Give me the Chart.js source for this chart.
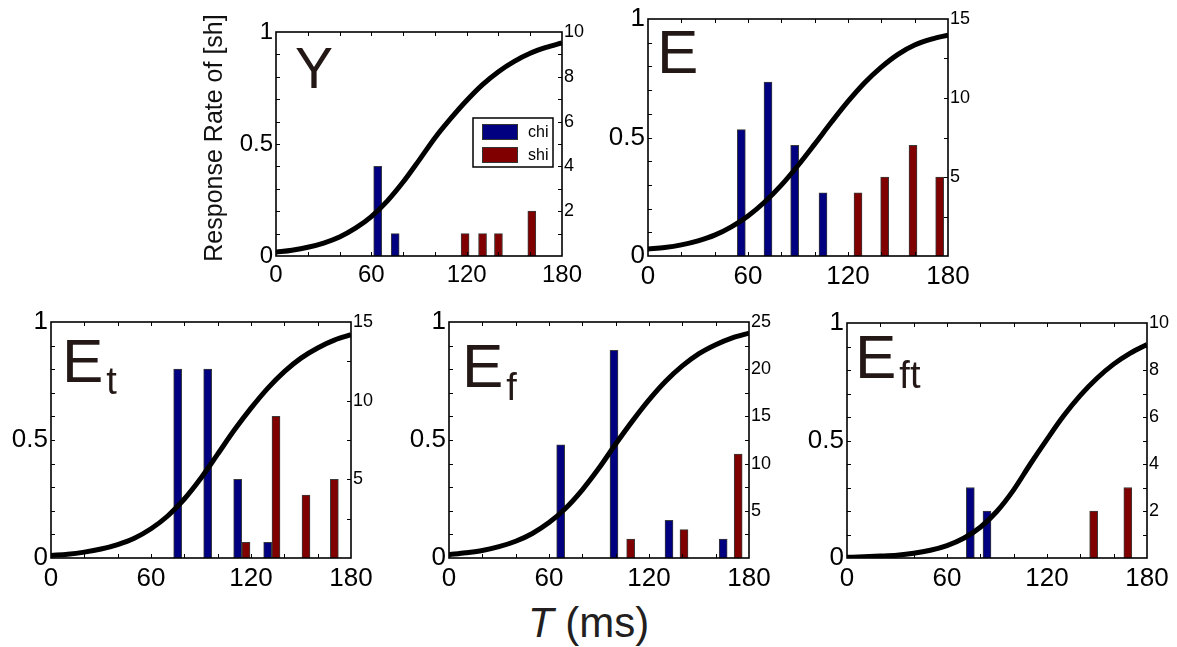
<!DOCTYPE html>
<html>
<head>
<meta charset="utf-8">
<script src="https://cdn.jsdelivr.net/npm/chart.js@4.4.0/dist/chart.umd.min.js"></script>
<style>
  body { margin: 0; background: #fff; width: 1177px; height: 647px; position: relative; overflow: hidden; font-family: "Liberation Sans", Arial, sans-serif; }
  canvas { position: absolute; }
  #xtitle { position: absolute; left: 528px; top: 603px; font-size: 42px; line-height: 40px; color: #231f20; white-space: nowrap; }
</style>
</head>
<body>
<div id="xtitle"><i>T</i> (ms)</div>
<script>
// time grid of the fitted response curves (ms)
const timeGrid = [0, 10, 20, 30, 40, 50, 60, 70, 80, 90, 100, 110, 120, 130, 140, 150, 160, 170, 180];

// response rate of [sh]
const rateY   = [0.017, 0.026, 0.039, 0.058, 0.085, 0.124, 0.176, 0.245, 0.330, 0.427, 0.527, 0.614, 0.694, 0.765, 0.823, 0.869, 0.905, 0.931, 0.951];
const rateE   = [0.030, 0.036, 0.047, 0.064, 0.088, 0.123, 0.169, 0.228, 0.299, 0.382, 0.472, 0.564, 0.652, 0.731, 0.797, 0.851, 0.890, 0.915, 0.932];
const rateEt  = [0.011, 0.016, 0.025, 0.038, 0.057, 0.084, 0.124, 0.178, 0.250, 0.339, 0.440, 0.542, 0.635, 0.719, 0.790, 0.847, 0.890, 0.923, 0.946];
const rateEf  = [0.014, 0.022, 0.032, 0.048, 0.071, 0.104, 0.150, 0.211, 0.289, 0.381, 0.483, 0.580, 0.670, 0.749, 0.814, 0.866, 0.904, 0.933, 0.953];
const rateEft = [0.003, 0.005, 0.008, 0.012, 0.020, 0.033, 0.053, 0.084, 0.131, 0.199, 0.290, 0.400, 0.505, 0.605, 0.692, 0.765, 0.825, 0.872, 0.909];

// chi / shi response counts (right axis) at their time bins
const chiTimeY = [64, 75];              const chiCountY = [4, 1];
const shiTimeY = [119, 130, 140, 161];  const shiCountY = [1, 1, 1, 2];
const chiTimeE = [56, 72, 88, 105];     const chiCountE = [8, 11, 7, 4];
const shiTimeE = [126, 142, 159, 175];  const shiCountE = [4, 5, 7, 5];
const chiTimeEt = [76, 94, 112, 130];   const chiCountEt = [12, 12, 5, 1];
const shiTimeEt = [117, 135, 153, 170]; const shiCountEt = [1, 9, 4, 5];
const chiTimeEf = [67, 99, 132, 164.5]; const chiCountEf = [12, 22, 4, 2];
const shiTimeEf = [109, 141, 173.5];    const shiCountEf = [2, 3, 11];
const chiTimeEft = [74, 84];            const chiCountEft = [3, 2];
const shiTimeEft = [148, 168.5];        const shiCountEft = [2, 3];

const panelNames = ['Y', 'E', 'E', 'E', 'E'];
const panelSubs = ['', '', 't', 'f', 'ft'];
const countMax = [10, 15, 15, 25, 10];
const countStep = [2, 5, 5, 5, 2];
const seriesNames = ['chi', 'shi'];

const chiColor = '#000080';
const shiColor = '#800000';
const textColor = '#231815';

const points = (xs, ys) => xs.map((x, i) => ({ x: x, y: ys[i] }));

// plot area of every panel (left, top, right, bottom) and label placement
const layouts = [
  { area: [276, 32, 562, 256], padL: 90, padT: 30, lab: [19, 56, 57], tickFont: 24, legend: true, yTitle: true },
  { area: [648, 19, 948, 256], padL: 60, padT: 16, lab: [9, 54, 62], tickFont: 26 },
  { area: [51, 322, 351, 558], padL: 50, padT: 20, lab: [11, 60, 62], tickFont: 26, sub: 12 },
  { area: [449, 322, 749, 558], padL: 50, padT: 20, lab: [13, 65, 62], tickFont: 26, sub: 13 },
  { area: [847, 323, 1147, 558], padL: 50, padT: 20, lab: [8, 55, 62], tickFont: 26, sub: 10 }
];
const padR = 30, padB = 42;

const decoPlugin = {
  id: 'deco',
  afterDatasetsDraw(chart, args, o) {
    const { ctx, chartArea: a, scales } = chart;
    ctx.save();
    ctx.strokeStyle = '#000';
    ctx.lineWidth = 1;
    ctx.beginPath();
    for (let t = 20; t < 180; t += 20) {
      const px = Math.round(scales.x.getPixelForValue(t)) + 0.5;
      ctx.moveTo(px, a.bottom); ctx.lineTo(px, a.bottom - 4);
      ctx.moveTo(px, a.top); ctx.lineTo(px, a.top + 4);
    }
    for (let v = 1; v < 10; v++) {
      const py = Math.round(scales.y.getPixelForValue(v / 10)) + 0.5;
      ctx.moveTo(a.left, py); ctx.lineTo(a.left + 4, py);
    }
    const m = o.step / 2;
    for (let v = m; v < o.max; v += m) {
      const py = Math.round(scales.y1.getPixelForValue(v)) + 0.5;
      ctx.moveTo(a.right, py); ctx.lineTo(a.right - 4, py);
    }
    ctx.stroke();
    ctx.lineWidth = 1.6;
    ctx.strokeRect(a.left, a.top, a.right - a.left, a.bottom - a.top);

    // panel name with subscript
    ctx.fillStyle = textColor;
    ctx.textBaseline = 'alphabetic';
    ctx.textAlign = 'left';
    ctx.font = o.lab[2] + 'px "Liberation Sans", Arial, sans-serif';
    const lx = a.left + o.lab[0], ly = a.top + o.lab[1];
    ctx.fillText(o.name, lx, ly);
    if (o.sub) {
      const w = ctx.measureText(o.name).width;
      ctx.font = '38px "Liberation Sans", Arial, sans-serif';
      ctx.fillText(o.sub, lx + w + 3, ly + o.subDrop);
    }

    if (o.yTitle) {
      ctx.save();
      ctx.translate(a.left - 61, a.top + 106);
      ctx.rotate(-Math.PI / 2);
      ctx.textAlign = 'center';
      ctx.textBaseline = 'middle';
      ctx.fillStyle = '#111';
      ctx.font = '25px "Liberation Sans", Arial, sans-serif';
      ctx.fillText(o.yTitle, 0, 0);
      ctx.restore();
    }

    if (o.legend) {
      const bars = chart.data.datasets.filter(d => d.type === 'bar');
      const bx = a.right - 89, by = a.top + 86;
      ctx.fillStyle = '#fff';
      ctx.fillRect(bx, by, 80, 49);
      ctx.lineWidth = 1.5;
      ctx.strokeStyle = '#000';
      ctx.strokeRect(bx, by, 80, 49);
      ctx.font = '16px "Liberation Sans", Arial, sans-serif';
      ctx.textBaseline = 'middle';
      bars.forEach((d, i) => {
        const sy = by + 6 + i * 23;
        ctx.fillStyle = d.backgroundColor;
        ctx.fillRect(bx + 9, sy, 36, 16);
        ctx.lineWidth = 1;
        ctx.strokeStyle = '#333';
        ctx.strokeRect(bx + 9.5, sy + 0.5, 35, 15);
        ctx.fillStyle = '#000';
        ctx.fillText(d.label, bx + 55, sy + 9);
      });
    }
    ctx.restore();
  }
};

function fixSize(prop, size) {
  return s => {
    s[prop] = size;
    s.paddingLeft = 0; s.paddingRight = 0; s.paddingTop = 0; s.paddingBottom = 0;
  };
}

function barSet(label, color, xs, ys) {
  return {
    type: 'bar', label: label, data: points(xs, ys), yAxisID: 'y1',
    backgroundColor: color, borderColor: '#3a3a3a', borderWidth: 1,
    barThickness: 8, grouped: false, order: 1
  };
}

function makePanel(i, rate, chiT, chiN, shiT, shiN) {
  const L = layouts[i];
  const [x0, y0, x1, y1] = L.area;
  const c = document.createElement('canvas');
  c.width = (x1 - x0) + L.padL + padR;
  c.height = (y1 - y0) + L.padT + padB;
  c.style.left = (x0 - L.padL) + 'px';
  c.style.top = (y0 - L.padT) + 'px';
  document.body.appendChild(c);

  const font = size => ({ family: '"Liberation Sans", Arial, sans-serif', size: size });
  new Chart(c, {
    type: 'bar',
    data: {
      datasets: [
        {
          type: 'line', label: 'rate', data: points(timeGrid, rate), yAxisID: 'y',
          borderColor: '#000', borderWidth: 5, pointRadius: 0,
          cubicInterpolationMode: 'monotone', fill: false, order: 0
        },
        barSet(seriesNames[0], chiColor, chiT, chiN),
        barSet(seriesNames[1], shiColor, shiT, shiN)
      ]
    },
    options: {
      responsive: false,
      animation: false,
      devicePixelRatio: 1,
      layout: { padding: { top: L.padT, left: 0, right: 0, bottom: 0 } },
      plugins: {
        legend: { display: false },
        tooltip: { enabled: false },
        deco: {
          name: panelNames[i], sub: panelSubs[i], lab: L.lab, subDrop: L.sub || 0,
          max: countMax[i], step: countStep[i], legend: !!L.legend,
          yTitle: L.yTitle ? 'Response Rate of [sh]' : ''
        }
      },
      scales: {
        x: {
          type: 'linear', min: 0, max: 180, offset: false,
          grid: { display: false, drawTicks: false, offset: false }, border: { display: false },
          ticks: { stepSize: 60, font: font(L.tickFont), color: '#000', padding: 5, maxRotation: 0, autoSkip: false },
          afterFit: fixSize('height', padB)
        },
        y: {
          position: 'left', min: 0, max: 1,
          grid: { display: false, drawTicks: false }, border: { display: false },
          ticks: { stepSize: 0.5, font: font(L.tickFont), color: '#000', padding: 3,
                   callback: v => String(v) },
          afterFit: fixSize('width', L.padL)
        },
        y1: {
          position: 'right', min: 0, max: countMax[i],
          grid: { display: false, drawTicks: false }, border: { display: false },
          ticks: { stepSize: countStep[i], font: font(18), color: '#000', padding: 2,
                   callback: v => (v === 0 ? '' : v) },
          afterFit: fixSize('width', padR)
        }
      }
    },
    plugins: [decoPlugin]
  });
}

makePanel(0, rateY, chiTimeY, chiCountY, shiTimeY, shiCountY);
makePanel(1, rateE, chiTimeE, chiCountE, shiTimeE, shiCountE);
makePanel(2, rateEt, chiTimeEt, chiCountEt, shiTimeEt, shiCountEt);
makePanel(3, rateEf, chiTimeEf, chiCountEf, shiTimeEf, shiCountEf);
makePanel(4, rateEft, chiTimeEft, chiCountEft, shiTimeEft, shiCountEft);
</script>
</body>
</html>
